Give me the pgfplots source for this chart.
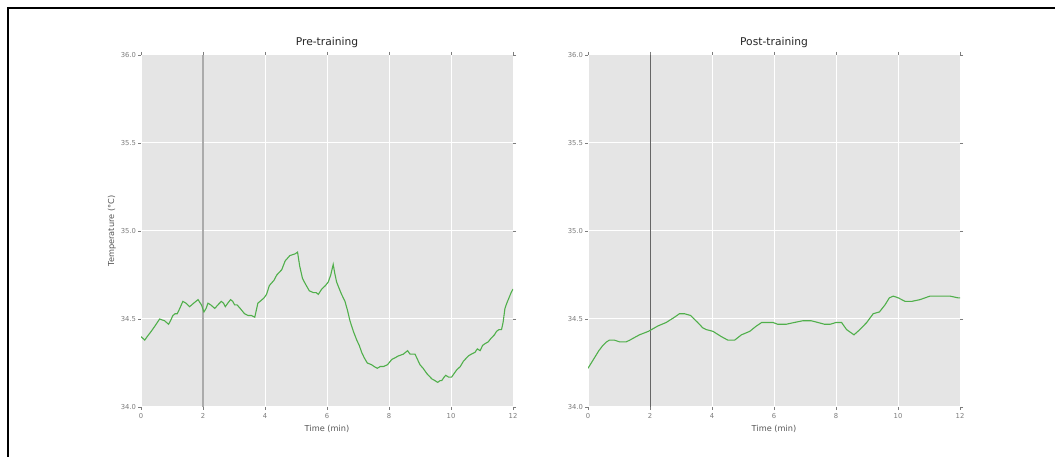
\documentclass[border=0pt]{standalone}
\usepackage{pgfplots}
\pgfplotsset{compat=1.18}
\usepackage{fontspec}
\setmainfont{DejaVu Sans}
\definecolor{bgc}{RGB}{229,229,229}
\definecolor{lgray}{RGB}{85,85,85}
\definecolor{tgray}{RGB}{125,125,125}
\definecolor{lgreen}{RGB}{80,175,75}
\pgfplotstableread{
t y
0 34.40
0.06 34.39
0.12 34.38
0.2 34.40
0.33 34.43
0.45 34.46
0.6 34.50
0.76 34.49
0.89 34.47
0.95 34.49
1.03 34.52
1.1 34.53
1.17 34.53
1.25 34.56
1.35 34.60
1.45 34.59
1.57 34.57
1.7 34.59
1.84 34.61
1.95 34.58
2.03 34.54
2.1 34.56
2.16 34.59
2.25 34.58
2.38 34.56
2.48 34.58
2.59 34.60
2.66 34.59
2.72 34.57
2.8 34.59
2.89 34.61
2.96 34.60
3.02 34.58
3.1 34.58
3.2 34.56
3.34 34.53
3.45 34.52
3.56 34.52
3.67 34.51
3.72 34.55
3.77 34.59
3.84 34.60
3.97 34.62
4.05 34.64
4.14 34.69
4.29 34.72
4.38 34.75
4.54 34.78
4.65 34.83
4.8 34.86
4.97 34.87
5.05 34.88
5.12 34.80
5.21 34.73
5.3 34.70
5.43 34.66
5.56 34.65
5.65 34.65
5.72 34.64
5.83 34.67
5.95 34.69
6.04 34.71
6.12 34.75
6.2 34.81
6.25 34.76
6.31 34.71
6.4 34.67
6.47 34.64
6.58 34.60
6.66 34.55
6.74 34.49
6.85 34.43
6.96 34.38
7.04 34.35
7.12 34.31
7.2 34.28
7.3 34.25
7.44 34.24
7.52 34.23
7.62 34.22
7.72 34.23
7.82 34.23
7.95 34.24
8.09 34.27
8.2 34.28
8.3 34.29
8.46 34.30
8.6 34.32
8.68 34.30
8.84 34.30
8.92 34.27
9.0 34.24
9.1 34.22
9.22 34.19
9.38 34.16
9.48 34.15
9.57 34.14
9.65 34.15
9.7 34.15
9.78 34.17
9.83 34.18
9.92 34.17
10.02 34.17
10.1 34.19
10.18 34.21
10.3 34.23
10.4 34.26
10.56 34.29
10.65 34.30
10.77 34.31
10.85 34.33
10.94 34.32
11.02 34.35
11.1 34.36
11.2 34.37
11.29 34.39
11.4 34.41
11.47 34.43
11.55 34.44
11.63 34.44
11.68 34.48
11.74 34.56
11.8 34.59
11.87 34.62
11.94 34.65
12 34.67
}\pretable
\pgfplotstableread{
t y
0 34.22
0.21 34.28
0.35 34.32
0.48 34.35
0.6 34.37
0.69 34.38
0.78 34.38
0.85 34.38
1.02 34.37
1.23 34.37
1.35 34.38
1.45 34.39
1.66 34.41
1.95 34.43
2.25 34.46
2.52 34.48
2.79 34.51
2.95 34.53
3.11 34.53
3.31 34.52
3.54 34.48
3.7 34.45
3.81 34.44
4.03 34.43
4.3 34.40
4.51 34.38
4.73 34.38
4.95 34.41
5.22 34.43
5.43 34.46
5.6 34.48
5.75 34.48
5.97 34.48
6.12 34.47
6.39 34.47
6.65 34.48
6.93 34.49
7.2 34.49
7.42 34.48
7.63 34.47
7.81 34.47
8.0 34.48
8.1 34.48
8.18 34.48
8.34 34.44
8.58 34.41
8.77 34.44
8.99 34.48
9.2 34.53
9.4 34.54
9.58 34.58
9.72 34.62
9.85 34.63
10.01 34.62
10.23 34.60
10.44 34.60
10.71 34.61
11.03 34.63
11.35 34.63
11.68 34.63
11.94 34.62
12 34.62
}\posttable
\pgfplotsset{
  myaxis/.style={
    scale only axis, width=372pt, height=352pt,
    xmin=0, xmax=12, ymin=34, ymax=36,
    axis background/.style={fill=bgc},
    axis line style={draw=none},
    grid=major, major grid style={white, line width=1pt},
    xtick={0,2,...,12}, ytick={34,34.5,...,36},
    tick style={tgray, line width=0.5pt}, tick align=outside, major tick length=3pt,
    /pgf/number format/assume math mode=true,
    tick label style={font=\fontsize{6.8}{8}\selectfont, text=tgray},
    yticklabel style={xshift=1.5pt, /pgf/number format/.cd, fixed, fixed zerofill, precision=1},
    xticklabel style={/pgf/number format/.cd, fixed, precision=0},
    label style={font=\fontsize{8.2}{10}\selectfont, text=lgray},
    xlabel style={at={(axis description cs:0.5,-0.0625)}, anchor=center},
    title style={font=\fontsize{10.7}{12}\selectfont, text=black!85, at={(axis description cs:0.5,1)}, anchor=south, inner sep=0.8pt},
  }
}
\begin{document}
\begin{tikzpicture}[x=1pt,y=1pt]
\useasboundingbox (0,0) rectangle (1055,457);
\fill[white] (0,0) rectangle (1055,457);
\draw[black, line width=2.5pt] (8,0) -- (8,449) -- (1055,449);
\begin{axis}[myaxis, at={(141pt,50pt)}, anchor=south west,
  title={Pre-training}, xlabel={Time (min)}, ylabel={Temperature (°C)},
  ylabel style={at={(axis description cs:-0.078,0.5)}, anchor=center}]
\addplot[color=black!33, line width=1.6pt] coordinates {(2,34) (2,36)};
\addplot[color=lgreen, line width=1.1pt] table[x=t,y=y] {\pretable};
\end{axis}
\begin{axis}[myaxis, at={(588pt,50pt)}, anchor=south west,
  title={Post-training}, xlabel={Time (min)}]
\addplot[color=black!60, line width=0.8pt] coordinates {(2,34) (2,36)};
\addplot[color=lgreen, line width=1.1pt] table[x=t,y=y] {\posttable};
\end{axis}
\end{tikzpicture}
\end{document}
